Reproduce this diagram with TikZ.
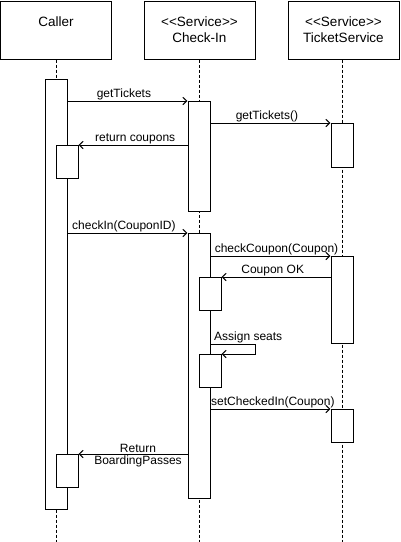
\documentclass[tikz,border=0pt]{standalone}
\usepackage{fontspec}
\setmainfont{Liberation Sans}[Ligatures=TeXOff]
\usetikzlibrary{arrows.meta}
\begin{document}
\begin{tikzpicture}[x=1pt,y=-1pt,
  hdr/.style={draw, line width=1pt, minimum width=111pt, minimum height=58pt, inner sep=0pt, align=center, font=\fontsize{13.5}{16}\selectfont},
  act/.style={draw, fill=white, line width=1pt, minimum width=22pt, inner sep=0pt, anchor=north},
  life/.style={line width=1pt, dash pattern=on 3pt off 2pt},
  msg/.style={line width=1pt, -{Straight Barb[length=4pt,width=7.5pt]}},
  lbl/.style={font=\fontsize{12}{14}\selectfont, inner sep=1pt}]
\useasboundingbox (0,0) rectangle (400,542);
% headers
\node[hdr] (caller) at (56,30) {Caller\\\mbox{}};
\node[hdr] (checkin) at (199.5,30) {<<Service>>\\Check-In};
\node[hdr] (ticket) at (343.5,30) {<<Service>>\\TicketService};
% lifeline ends
\coordinate (cend) at (56,542);
\coordinate (iend) at (199,542);
\coordinate (tend) at (342,542);
\draw[life] (caller.south -| cend) -- (cend);
\draw[life] (checkin.south -| iend) -- (iend);
\draw[life] (ticket.south -| tend) -- (tend);
% activations
\node[act, minimum height=430pt] (ca) at (56,79) {};
\node[act, minimum height=33pt] (cs1) at (67,145) {};
\node[act, minimum height=33pt] (cs2) at (67,454) {};
\node[act, minimum height=110pt] (ia1) at (199,101) {};
\node[act, minimum height=265pt] (ia2) at (199,233) {};
\node[act, minimum height=33pt] (is1) at (210,277) {};
\node[act, minimum height=33pt] (is2) at (210,354) {};
\node[act, minimum height=44pt] (ta1) at (342,123) {};
\node[act, minimum height=87pt] (ta2) at (342,256) {};
\node[act, minimum height=33pt] (ta3) at (342,409) {};
% messages
\draw[msg] (ca.east |- ia1.north) -- (ia1.north west)
  node[lbl, above, pos=0.47] (m1) {getTickets};
\draw[msg] (ia1.east |- ta1.north) -- (ta1.north west)
  node[lbl, above, pos=0.47] (m2) {getTickets()};
\draw[msg] (ia1.west |- cs1.north) -- (cs1.north east)
  node[lbl, above, pos=0.48] (m3) {return coupons};
\draw[msg] (ca.east |- ia2.north) -- (ia2.north west)
  node[lbl, above, pos=0.47] (m4) {checkIn(CouponID)};
\draw[msg] (ia2.east |- ta2.north) -- (ta2.north west)
  node[lbl, above, pos=0.55] (m5) {checkCoupon(Coupon)};
\draw[msg] (ta2.west |- is1.north) -- (is1.north east)
  node[lbl, above, pos=0.53] (m6) {Coupon OK};
\draw[msg] (ia2.east |- 0,344) -- ++(45,0) |- (is2.north east);
\node[lbl, anchor=south west] (m7) at (213,344) {Assign seats};
\draw[msg] (ia2.east |- ta3.north) -- (ta3.north west)
  node[lbl, above, pos=0.52] (m8) {setCheckedIn(Coupon)};
\draw[msg] (ia2.west |- cs2.north) -- (cs2.north east);
\node[lbl, anchor=south] (m9) at (138,454) {Return};
\node[lbl, anchor=north] (m10) at (138,455) {BoardingPasses};
\end{tikzpicture}
\end{document}
